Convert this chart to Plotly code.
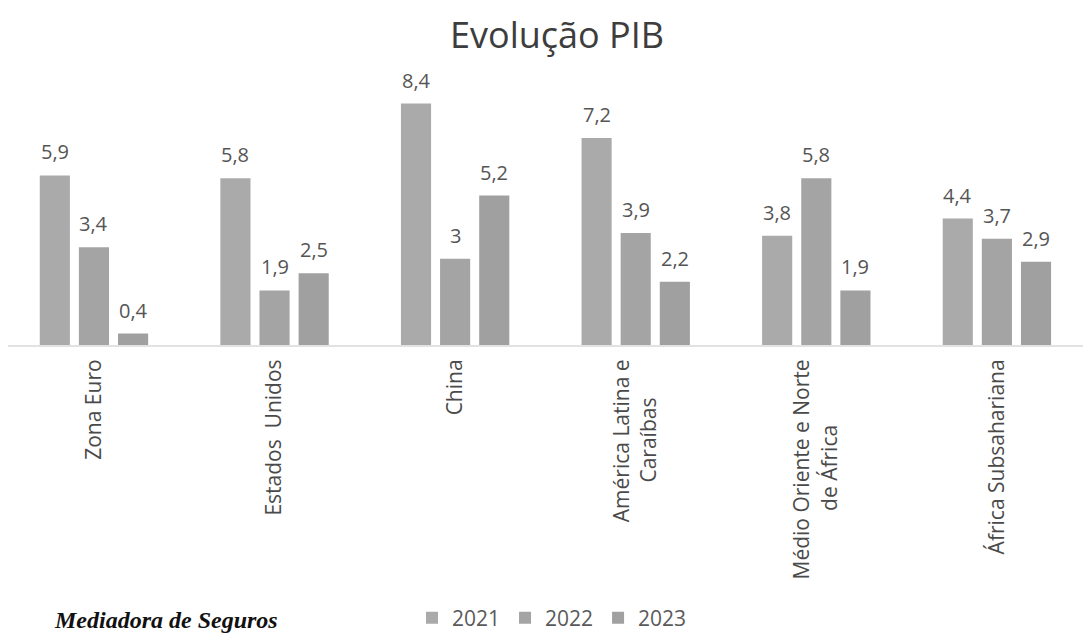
import plotly.graph_objects as go

# ---- data ----
categories = ["Zona Euro", "Estados  Unidos", "China", "América Latina e Caraíbas",
              "Médio Oriente e Norte de África", "África Subsahariana"]
tick_lines = [["Zona Euro"], ["Estados\u00a0\u00a0Unidos"], ["China"],
              ["América Latina e", "Caraíbas"],
              ["Médio Oriente e Norte", "de África"], ["África Subsahariana"]]
years = ["2021", "2022", "2023"]
v2021 = [5.9, 5.8, 8.4, 7.2, 3.8, 4.4]
v2022 = [3.4, 1.9, 3.0, 3.9, 5.8, 3.7]
v2023 = [0.4, 2.5, 5.2, 2.2, 1.9, 2.9]
series = [v2021, v2022, v2023]
title_text = "Evolução PIB"
logo_text = "Mediadora de Seguros"

# ---- style ----
# page body has an 8px margin, so the figure is sized to the remaining view
W, H = 1083, 627
ML, MR, MT, MB = 0, 4, 64, 290
XRANGE = [-0.476, 5.499]
BARGAP, GROUPGAP = 0.35, 0.23
colors = ["#aaaaaa", "#a4a4a4", "#a0a0a0"]
FONT = "Open Sans"
pad2 = {3: 7, 4: 12}   # nbsp padding to centre second lines


def fmt(v):
    s = ("%g" % v)
    return s.replace(".", ",")


ticktext = []
for i, lines in enumerate(tick_lines):
    if len(lines) > 1:
        lines = [lines[0], lines[1] + "\u00a0" * pad2.get(i, 0)]
    ticktext.append("<br>".join(lines))

fig = go.Figure()
for name, vals, col in zip(years, series, colors):
    fig.add_trace(go.Bar(x=categories, y=vals, name=name, marker_color=col,
                         marker_line_width=0, hoverinfo="skip"))

plot_w = W - ML - MR
plot_h = H - MT - MB
cat_px = plot_w / (XRANGE[1] - XRANGE[0])
slot = cat_px * (1 - BARGAP) / len(series)
for j, vals in enumerate(series):
    for c, v in zip(categories, vals):
        fig.add_annotation(x=c, y=v, xref="x", yref="y", text=fmt(v),
                           showarrow=False, yanchor="bottom",
                           xshift=(j - (len(series) - 1) / 2) * slot, yshift=8,
                           font=dict(family=FONT, size=20, color="#555555"))

fig.add_annotation(x=44 / plot_w, y=-MB / plot_h,
                   xref="paper", yref="paper",
                   text="<b><i>" + logo_text + "</i></b>", showarrow=False,
                   xanchor="left", yanchor="bottom",
                   font=dict(family="Liberation Serif", size=24, color="#111111"))

fig.update_layout(
    width=W, height=H,
    margin=dict(l=ML, r=MR, t=MT, b=MB, autoexpand=False),
    paper_bgcolor="white", plot_bgcolor="white",
    barmode="group", bargap=BARGAP, bargroupgap=GROUPGAP,
    title=dict(text=title_text, x=549 / W, xanchor="center", y=1 - 27 / H,
               yanchor="middle", pad=dict(t=0, b=0),
               font=dict(family=FONT, size=36, color="#3d3d3d")),
    xaxis=dict(tickmode="array", tickvals=categories, ticktext=ticktext,
               range=XRANGE,
               tickangle=-90, ticks="", ticklabelstandoff=4, automargin=False,
               showline=True, linecolor="#e2e2e2", linewidth=2,
               showgrid=False, zeroline=False,
               tickfont=dict(family=FONT, size=21, color="#4a4a4a")),
    yaxis=dict(range=[0, 9.5], visible=False, showgrid=False, zeroline=False,
               automargin=False),
    showlegend=True,
    legend=dict(orientation="h", x=404 / plot_w, xanchor="left",
                y=-(610 - (H - MB)) / plot_h,
                yanchor="middle", font=dict(family=FONT, size=21, color="#5a5a5a"),
                bgcolor="rgba(0,0,0,0)"),
    font=dict(family=FONT),
)

fig.write_html("out.html")
